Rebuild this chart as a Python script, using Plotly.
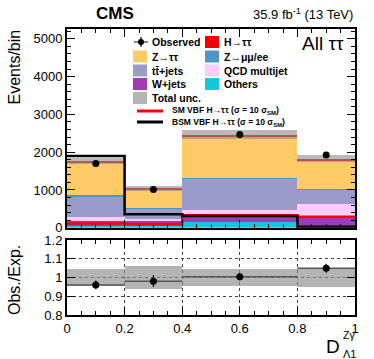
import numpy as np
import plotly.graph_objects as go

# bin edges of D_Lambda1^Zgamma
edges = [0.0, 0.2, 0.4, 0.8, 1.0]

# stacked backgrounds, bottom to top (events/bin)
others = [60, 50, 150, 60]
wjets = [130, 120, 140, 220]
qcd = [100, 60, 180, 340]
ttbar = [540, 270, 830, 390]
zmm = [30, 25, 20, 25]
ztt = [870, 475, 1100, 755]
htt = [40, 35, 40, 43]

observed = [1700, 1015, 2470, 1925]
obs_err = [41, 32, 50, 44]
rel_unc = [0.045, 0.06, 0.047, 0.05]

sm_vbf = [110, 100, 330, 290]
bsm_vbf = [1900, 360, 310, 30]

names = ["Others", "W+jets", "QCD multijet", "t" + "t\u0304" + "+jets", "Z\u2192\u03bc\u03bc/ee", "Z\u2192\u03c4\u03c4", "H\u2192\u03c4\u03c4"]
colors = ["#13C8DA", "#A03BB5", "#FFCCFF", "#9B9BCB", "#4B97C9", "#FECB66", "#F20000"]

edges = np.array(edges)
centers = (edges[:-1] + edges[1:]) / 2
widths = edges[1:] - edges[:-1]
stack = [others, wjets, qcd, ttbar, zmm, ztt, htt]
total = np.sum(stack, axis=0)
ratio = np.array(observed) / total
ratio_err = np.array(obs_err) / total

FONT = "Liberation Sans"
fig = go.Figure()

base = np.zeros(len(centers))
for vals, name, col in zip(stack, names, colors):
    fig.add_trace(go.Bar(x=centers, y=vals, base=base.copy(), width=widths, name=name,
                         marker=dict(color=col, line=dict(width=0)), showlegend=False))
    base += np.array(vals)

# total uncertainty band
unc = total * np.array(rel_unc)
fig.add_trace(go.Bar(x=centers, y=2 * unc, base=total - unc, width=widths,
                     marker=dict(color="rgba(140,140,140,0.6)", line=dict(width=0)), showlegend=False))

# signal lines (not stacked)
fig.add_trace(go.Scatter(x=edges, y=sm_vbf + [sm_vbf[-1]], mode="lines", line_shape="hv",
                         line=dict(color="#FF0000", width=2.5), showlegend=False))
fig.add_trace(go.Scatter(x=edges, y=bsm_vbf + [bsm_vbf[-1]], mode="lines", line_shape="hv",
                         line=dict(color="black", width=2.5), showlegend=False))

fig.add_trace(go.Scatter(x=centers, y=observed, mode="markers",
                         marker=dict(color="black", size=7),
                         error_y=dict(array=obs_err, color="black", thickness=1.2, width=0),
                         showlegend=False))

# ratio panel
fig.add_trace(go.Bar(x=centers, y=2 * np.array(rel_unc), base=1 - np.array(rel_unc), width=widths,
                     marker=dict(color="rgba(140,140,140,0.65)", line=dict(width=0)),
                     xaxis="x2", yaxis="y2", showlegend=False))
fig.add_trace(go.Scatter(x=centers, y=ratio, mode="markers", xaxis="x2", yaxis="y2",
                         marker=dict(color="black", size=7),
                         error_x=dict(array=widths / 2, color="#555555", thickness=1.5, width=0),
                         error_y=dict(array=ratio_err, color="black", thickness=1.2, width=0),
                         showlegend=False))

axis_common = dict(showline=True, linecolor="black", linewidth=2, mirror="allticks",
                   ticks="inside", tickcolor="black", ticklen=8, tickwidth=1.2,
                   tickfont=dict(family=FONT, size=13, color="black"), zeroline=False)

fig.update_layout(
    width=374, height=359,
    margin=dict(l=67, r=19, t=29, b=44),
    paper_bgcolor="white", plot_bgcolor="white",
    barmode="overlay", bargap=0,
    showlegend=False,
    xaxis=dict(domain=[0, 1], range=[0, 1], dtick=0.2, showticklabels=False, anchor="y",
               showgrid=False, minor=dict(ticks="inside", dtick=0.05, ticklen=4, tickcolor="black"),
               **axis_common),
    yaxis=dict(domain=[0.305, 1], range=[0, 5260], dtick=1000, anchor="x", showgrid=False,
               minor=dict(ticks="inside", dtick=200, ticklen=4, tickcolor="black"), **axis_common),
    xaxis2=dict(domain=[0, 1], range=[0, 1], dtick=0.2, anchor="y2", matches="x",
                showgrid=True, gridcolor="#444444", griddash="dot", gridwidth=0.8,
                minor=dict(ticks="inside", dtick=0.05, ticklen=4, tickcolor="black"),
                **axis_common),
    yaxis2=dict(domain=[0, 0.262], range=[0.8, 1.2], dtick=0.1, anchor="x2",
                showgrid=True, gridcolor="#444444", griddash="dot", gridwidth=0.8,
                **axis_common),
)


def px(x):
    return (x - 67) / 288


def py(y):
    return (315 - y) / 286


def text(x, y, s, size, xanchor="left", bold=False, angle=0, yanchor="middle"):
    fig.add_annotation(x=px(x), y=py(y), xref="paper", yref="paper", text="<b>%s</b>" % s if bold else s,
                       showarrow=False, xanchor=xanchor, yanchor=yanchor, textangle=angle,
                       font=dict(family=FONT, size=size, color="black"))


text(115, 14, "CMS", 17, xanchor="center", bold=True)
text(355, 14, "35.9 fb<sup>-1</sup> (13 TeV)", 13, xanchor="right")
text(346, 44, "All \u03c4\u03c4", 19, xanchor="right")
text(14, 28, "Events/bin", 16, xanchor="center", angle=-90, yanchor="top")
text(14, 243, "Obs./Exp.", 16, xanchor="center", angle=-90, yanchor="top")
text(342, 346, "D", 19, xanchor="right")
text(341, 335, "Z\u03b3", 10.5, xanchor="left")
text(341, 354, "\u039b1", 11, xanchor="left")

# manual two-column legend
legend_rows = [42, 56.5, 70.5, 84, 98]
col_sym = [133, 205]
col_txt = [150, 222]
entries = [("Observed", None), (names[6], colors[6]), (names[5], colors[5]), (names[4], colors[4]),
           (names[3], colors[3]), (names[2], colors[2]), (names[1], colors[1]), (names[0], colors[0]),
           ("Total unc.", "#B4B4B4")]
for i, (label, col) in enumerate(entries):
    r, c = divmod(i, 2)
    yc = legend_rows[r]
    if col is None:
        fig.add_shape(type="line", xref="paper", yref="paper", x0=px(134), x1=px(148), y0=py(yc), y1=py(yc),
                      line=dict(color="#333333", width=1.2))
        fig.add_shape(type="line", xref="paper", yref="paper", x0=px(141), x1=px(141), y0=py(yc - 5), y1=py(yc + 5),
                      line=dict(color="black", width=1.2))
        fig.add_shape(type="circle", xref="paper", yref="paper", x0=px(138), x1=px(144), y0=py(yc - 3), y1=py(yc + 3),
                      fillcolor="black", line=dict(width=0))
    else:
        fig.add_shape(type="rect", xref="paper", yref="paper", x0=px(col_sym[c]), x1=px(col_sym[c] + 14),
                      y0=py(yc - 6), y1=py(yc + 6), fillcolor=col, line=dict(width=0))
    text(col_txt[c], yc, label, 10.5, bold=True)

for yc, col, label in [(111, "#FF0000", "SM VBF H\u2192\u03c4\u03c4 (\u03c3 = 10 \u03c3<sub>SM</sub>)"),
                       (122, "black", "BSM VBF H\u2192\u03c4\u03c4 (\u03c3 = 10 \u03c3<sub>SM</sub>)")]:
    fig.add_shape(type="line", xref="paper", yref="paper", x0=px(137), x1=px(163), y0=py(yc), y1=py(yc),
                  line=dict(color=col, width=3))
    text(170, yc, label, 8.5, bold=True)

fig.write_html("out.html", config={"displayModeBar": False},
               post_script="document.body.style.margin='0';")
